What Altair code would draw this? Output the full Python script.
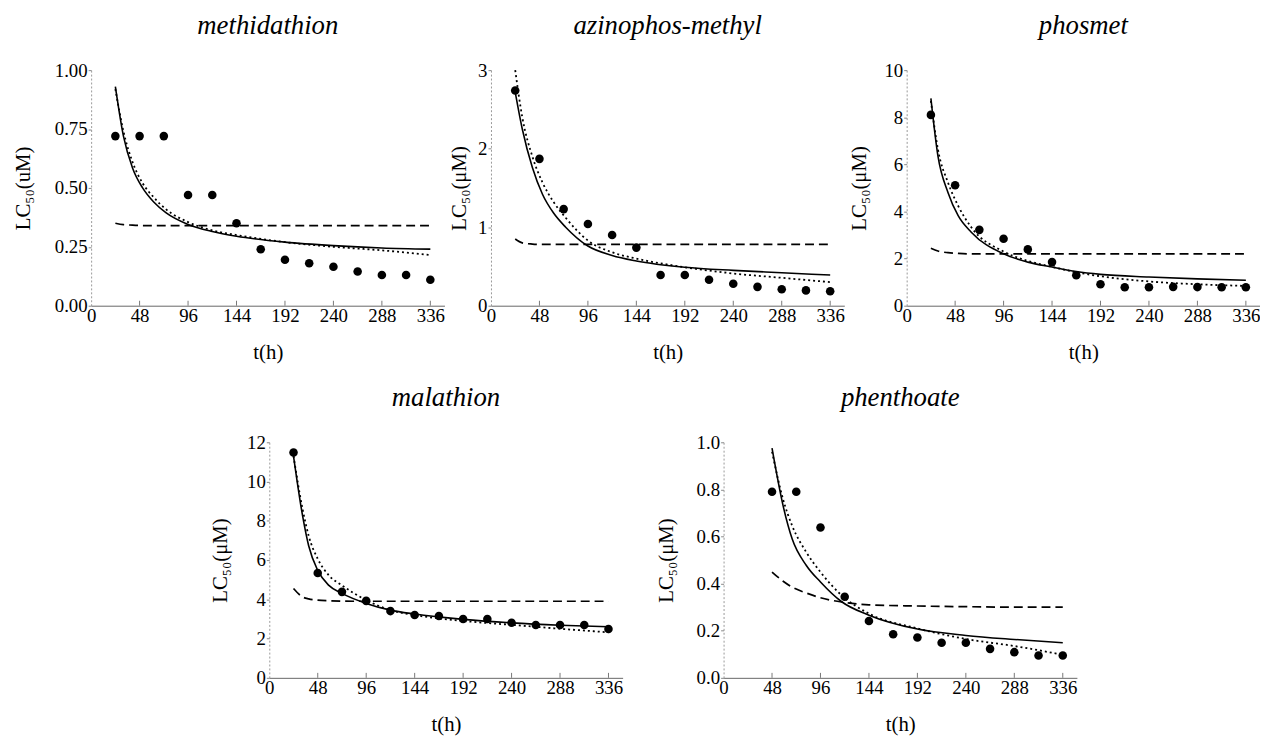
import altair as alt
import pandas as pd

# ---------------- data ----------------
names = ["methidathion", "azinophos-methyl", "phosmet", "malathion", "phenthoate"]
y_titles = ["LC₅₀(uM)", "LC₅₀(μM)", "LC₅₀(μM)", "LC₅₀(μM)", "LC₅₀(μM)"]
y_domains = [[0, 1], [0, 3], [0, 10], [0, 12], [0, 1]]
y_ticks = [[0, 0.25, 0.5, 0.75, 1.0], [0, 1, 2, 3], [0, 2, 4, 6, 8, 10],
           [0, 2, 4, 6, 8, 10, 12], [0, 0.2, 0.4, 0.6, 0.8, 1.0]]
y_formats = [".2f", "d", "d", "d", ".1f"]
x_ticks = [0, 48, 96, 144, 192, 240, 288, 336]

obs_t_full = [24, 48, 72, 96, 120, 144, 168, 192, 216, 240, 264, 288, 312, 336]
obs_t_phen = [48, 72, 96, 120, 144, 168, 192, 216, 240, 264, 288, 312, 336]

# methidathion
meth_obs = [0.72, 0.72, 0.72, 0.47, 0.47, 0.35, 0.24, 0.195, 0.18, 0.165, 0.145, 0.13, 0.13, 0.11]
meth_ct = [24, 32, 41, 51, 62, 74, 96, 120, 144, 192, 240, 288, 336]
meth_solid = [0.93, 0.72, 0.585, 0.50, 0.44, 0.395, 0.345, 0.315, 0.295, 0.27, 0.255, 0.245, 0.24]
meth_dotted = [0.92, 0.74, 0.61, 0.52, 0.46, 0.41, 0.355, 0.32, 0.30, 0.27, 0.25, 0.235, 0.215]
meth_dashed = [0.35, 0.344, 0.342, 0.34, 0.34, 0.34, 0.34, 0.34, 0.34, 0.34, 0.34, 0.34, 0.34]

# azinophos-methyl
azin_obs = [2.74, 1.87, 1.23, 1.04, 0.90, 0.74, 0.39, 0.39, 0.33, 0.28, 0.24, 0.21, 0.195, 0.185]
azin_ct = [24, 31, 41, 51, 62, 74, 96, 120, 144, 192, 240, 288, 336]
azin_solid = [2.72, 2.25, 1.76, 1.42, 1.18, 1.00, 0.76, 0.64, 0.57, 0.49, 0.45, 0.42, 0.39]
azin_dotted = [3.0, 2.40, 1.90, 1.57, 1.32, 1.12, 0.83, 0.68, 0.60, 0.49, 0.41, 0.355, 0.30]
azin_dashed = [0.85, 0.80, 0.785, 0.78, 0.78, 0.78, 0.78, 0.78, 0.78, 0.78, 0.78, 0.78, 0.78]

# phosmet
phos_obs = [8.10, 5.11, 3.22, 2.84, 2.39, 1.85, 1.29, 0.91, 0.78, 0.78, 0.80, 0.79, 0.78, 0.78]
phos_ct = [24, 31, 41, 51, 64, 96, 120, 144, 168, 192, 240, 288, 336]
phos_solid = [8.8, 6.35, 4.80, 3.82, 3.12, 2.20, 1.85, 1.64, 1.45, 1.33, 1.22, 1.14, 1.08]
phos_dotted = [8.7, 6.63, 5.22, 4.24, 3.33, 2.30, 1.90, 1.65, 1.42, 1.25, 1.03, 0.91, 0.84]
phos_dashed = [2.44, 2.32, 2.25, 2.22, 2.2, 2.2, 2.2, 2.2, 2.2, 2.2, 2.2, 2.2, 2.2]

# malathion
mala_obs = [11.48, 5.34, 4.38, 3.92, 3.40, 3.20, 3.15, 3.0, 3.0, 2.81, 2.69, 2.69, 2.69, 2.49]
mala_ct = [24, 33, 39, 48, 59, 72, 96, 120, 144, 192, 240, 288, 336]
mala_solid = [11.3, 8.25, 6.73, 5.47, 4.71, 4.30, 3.79, 3.45, 3.25, 2.98, 2.80, 2.68, 2.60]
mala_dotted = [11.3, 8.59, 7.24, 6.06, 5.22, 4.71, 3.96, 3.45, 3.20, 2.90, 2.70, 2.50, 2.32]
mala_dashed = [4.55, 4.12, 4.02, 3.96, 3.93, 3.91, 3.9, 3.9, 3.9, 3.9, 3.9, 3.9, 3.9]

# phenthoate
phen_obs = [0.79, 0.79, 0.638, 0.344, 0.241, 0.185, 0.171, 0.149, 0.149, 0.123, 0.109, 0.095, 0.095]
phen_ct = [48, 59, 68, 82, 96, 117, 144, 192, 240, 288, 336]
phen_solid = [0.975, 0.73, 0.589, 0.477, 0.407, 0.323, 0.266, 0.207, 0.18, 0.163, 0.149]
phen_dotted = [0.96, 0.757, 0.645, 0.533, 0.449, 0.35, 0.273, 0.21, 0.165, 0.135, 0.098]
phen_dashed = [0.449, 0.41, 0.385, 0.36, 0.34, 0.322, 0.31, 0.305, 0.302, 0.30, 0.30]

panels = [
    (obs_t_full, meth_obs, meth_ct, meth_solid, meth_dotted, meth_dashed),
    (obs_t_full, azin_obs, azin_ct, azin_solid, azin_dotted, azin_dashed),
    (obs_t_full, phos_obs, phos_ct, phos_solid, phos_dotted, phos_dashed),
    (obs_t_full, mala_obs, mala_ct, mala_solid, mala_dotted, mala_dashed),
    (obs_t_phen, phen_obs, phen_ct, phen_solid, phen_dotted, phen_dashed),
]

# ---------------- styling ----------------
FONT = "Liberation Serif"
W, H = 357, 238
X_DOMAIN = [0, 350]
Y_TITLE_PAD = [21, 8, 15, 16, 20]


def make_panel(i):
    obs_t, obs_v, ct, solid, dotted, dashed = panels[i]
    xs = alt.Scale(domain=X_DOMAIN, nice=False, zero=False)
    ys = alt.Scale(domain=y_domains[i], nice=False)
    x_axis = alt.Axis(values=x_ticks, title="t(h)", grid=False, ticks=False,
                      labelFont=FONT, labelFontSize=19, labelColor="black",
                      labelPadding=1, labelFlush=False,
                      titleFont=FONT, titleFontSize=21, titleFontWeight="normal",
                      titleColor="black", titlePadding=16,
                      domainColor="#666666", domainWidth=1)
    y_axis = alt.Axis(values=y_ticks[i], format=y_formats[i], title=y_titles[i],
                      grid=False, tickSize=3, tickColor="#888888",
                      labelFont=FONT, labelFontSize=19, labelColor="black",
                      labelPadding=1, labelFlush=False,
                      titleFont=FONT, titleFontSize=21, titleFontWeight="normal",
                      titleColor="black", titlePadding=Y_TITLE_PAD[i],
                      domainColor="#999999", domainDash=[2, 2], domainWidth=1)

    pts = pd.DataFrame({"t": obs_t, "v": obs_v})
    cur = pd.DataFrame({"t": ct, "solid": solid, "dotted": dotted, "dashed": dashed})
    tk = pd.DataFrame({"t": x_ticks[1:]})

    base_x = alt.X("t:Q", scale=xs, axis=x_axis)

    ticks = alt.Chart(tk).mark_rule(color="#777777", strokeWidth=1).encode(
        x=alt.X("t:Q", scale=xs, axis=x_axis), y=alt.value(H), y2=alt.value(H - 5))
    dash = alt.Chart(cur).mark_line(color="black", strokeWidth=1.7,
                                    strokeDash=[9, 5], interpolate="monotone").encode(
        x=base_x, y=alt.Y("dashed:Q", scale=ys, axis=y_axis))
    dot = alt.Chart(cur).mark_line(color="black", strokeWidth=1.8,
                                   strokeDash=[2, 3], interpolate="monotone").encode(
        x=base_x, y=alt.Y("dotted:Q", scale=ys, axis=y_axis))
    sol = alt.Chart(cur).mark_line(color="black", strokeWidth=1.6,
                                   interpolate="monotone").encode(
        x=base_x, y=alt.Y("solid:Q", scale=ys, axis=y_axis))
    points = alt.Chart(pts).mark_circle(color="black", size=75, opacity=1).encode(
        x=base_x, y=alt.Y("v:Q", scale=ys, axis=y_axis))

    return alt.layer(ticks, dash, dot, sol, points).properties(
        width=W, height=H,
        title=alt.TitleParams(names[i], font=FONT, fontStyle="italic", fontSize=27,
                              fontWeight="normal", color="black", anchor="middle",
                              baseline="alphabetic", offset=1),
    )


def spacer(w):
    return alt.Chart(pd.DataFrame({"a": [0]})).mark_rect(opacity=0).encode(
        x=alt.value(0), x2=alt.value(w), y=alt.value(0), y2=alt.value(H)
    ).properties(width=w, height=H)


row1 = alt.hconcat(make_panel(0), make_panel(1), make_panel(2), spacing=4)
row2 = alt.hconcat(spacer(115.7), make_panel(3), spacer(25), make_panel(4), spacing=4)

chart = alt.vconcat(row1, row2, spacing=22).configure_view(stroke=None).properties(
    background="white", padding={"left": 4, "right": 0, "top": 0, "bottom": 0})

chart.save("out.html", embed_options={"renderer": "svg", "actions": False})
